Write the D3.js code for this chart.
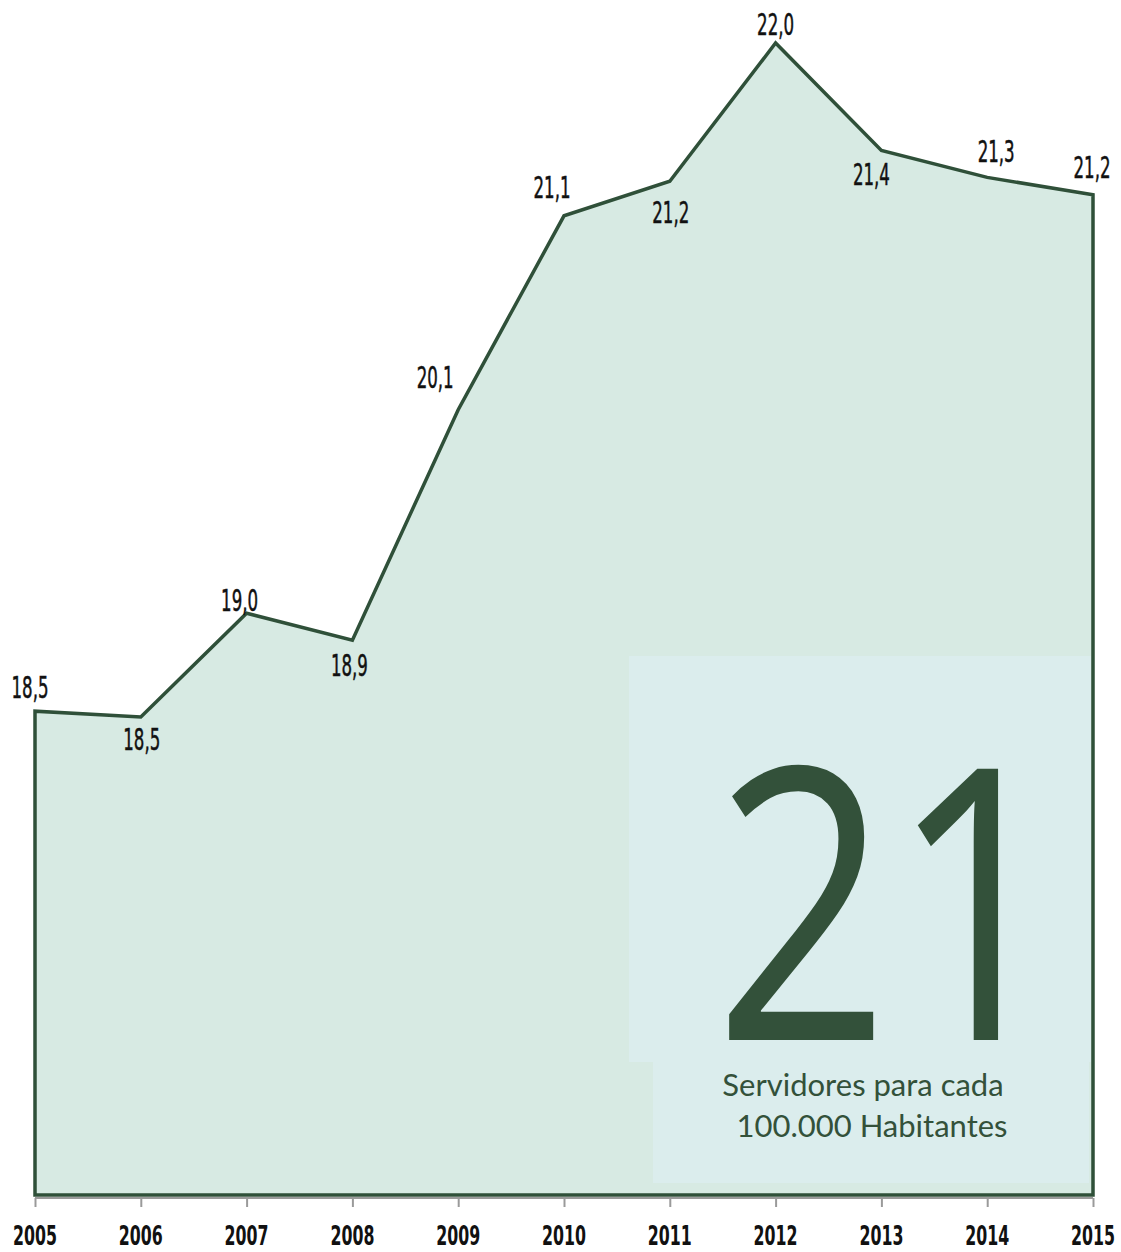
<!DOCTYPE html>
<html><head><meta charset="utf-8">
<script src="https://cdn.jsdelivr.net/npm/d3@7"></script>
<style>body{margin:0;background:#fff}svg{display:block}</style>
</head><body>
<svg id="c" width="1121" height="1252"></svg>
<script>
const years = ["2005","2006","2007","2008","2009","2010","2011","2012","2013","2014","2015"];
const values = [18.52, 18.49, 19.03, 18.89, 20.09, 21.10, 21.28, 22.0, 21.44, 21.30, 21.21];
const labels = ["18,5","18,5","19,0","18,9","20,1","21,1","21,2","22,0","21,4","21,3","21,2"];
const bigNumber = "21";
const caption = ["Servidores para cada", "100.000 Habitantes"];

// label offsets (dx, dy from point)
const labelOffsets = [[-5,-13],[1,33],[-7,-2],[-3,36],[-23,-22],[-12,-18],[1,42],[0,-8],[-10,34],[9,-15],[-1,-17]];

const svg = d3.select("#c");
const x = d3.scalePoint().domain(years).range([35, 1093]);
const y = d3.scaleLinear().domain([16, 22]).range([1195, 43]);

const green = "#2f5039";
const labelFont = "'Liberation Sans Narrow','DejaVu Sans Condensed','Liberation Sans',sans-serif";

// area
const area = d3.area().x((d,i)=>x(years[i])).y0(y(16)).y1(d=>y(d));
svg.append("path").attr("d", area(values)).attr("fill", "#d7eae3");

// inset boxes
svg.append("rect").attr("x", 629).attr("y", 656).attr("width", 462).attr("height", 406).attr("fill", "#dbeded");
svg.append("rect").attr("x", 653).attr("y", 1062).attr("width", 436).attr("height", 121).attr("fill", "#dbeded");

// area outline (closed)
const pts = values.map((d,i)=>[x(years[i]), y(d)]);
const outline = [[x(years[0]), y(16)], ...pts, [x(years[years.length-1]), y(16)]];
svg.append("path")
  .attr("d", d3.line()(outline) + "Z")
  .attr("fill", "none").attr("stroke", green).attr("stroke-width", 3.5).attr("stroke-linejoin", "miter");

// x axis
const axisG = svg.append("g").attr("transform", "translate(0,1198)");
axisG.call(d3.axisBottom(x).tickSize(9).tickFormat(""));
axisG.select(".domain").attr("stroke", "#9a9a9a").attr("stroke-width", 2).attr("d", "M35,0H1093");
axisG.selectAll(".tick line").attr("stroke", "#9a9a9a").attr("stroke-width", 2);

// year labels
svg.append("g").selectAll("text").data(years).join("text")
  .attr("x", d=>x(d)).attr("y", 1245)
  .attr("text-anchor", "middle")
  .attr("font-family", labelFont)
  .attr("font-weight", "bold").attr("font-size", 27)
  .attr("textLength", 44).attr("lengthAdjust", "spacingAndGlyphs")
  .attr("fill", "#111")
  .text(d=>d);

// value labels
svg.append("g").selectAll("text").data(labels).join("text")
  .attr("x", (d,i)=>x(years[i]) + labelOffsets[i][0])
  .attr("y", (d,i)=>y(values[i]) + labelOffsets[i][1])
  .attr("text-anchor", "middle")
  .attr("font-family", labelFont)
  .attr("font-size", 30)
  .attr("stroke", "#111").attr("stroke-width", 0.5)
  .attr("textLength", 37).attr("lengthAdjust", "spacingAndGlyphs")
  .attr("fill", "#111")
  .text(d=>d);

// big number
svg.append("text").attr("x", 890).attr("y", 1040)
  .attr("text-anchor", "middle")
  .attr("font-family", "'Open Sans', 'Noto Sans', sans-serif")
  .attr("font-size", 380)
  .attr("textLength", 352).attr("lengthAdjust", "spacingAndGlyphs")
  .attr("fill", "#33513a")
  .text(bigNumber);

// caption
svg.append("g").selectAll("text").data(caption).join("text")
  .attr("x", (d,i)=> i===0 ? 863 : 872)
  .attr("y", (d,i)=> 1096 + i*41)
  .attr("text-anchor", "middle")
  .attr("font-family", "Lato, 'Open Sans', sans-serif")
  .attr("font-size", 31)
  .attr("fill", "#33513a")
  .text(d=>d);
</script>
</body></html>
